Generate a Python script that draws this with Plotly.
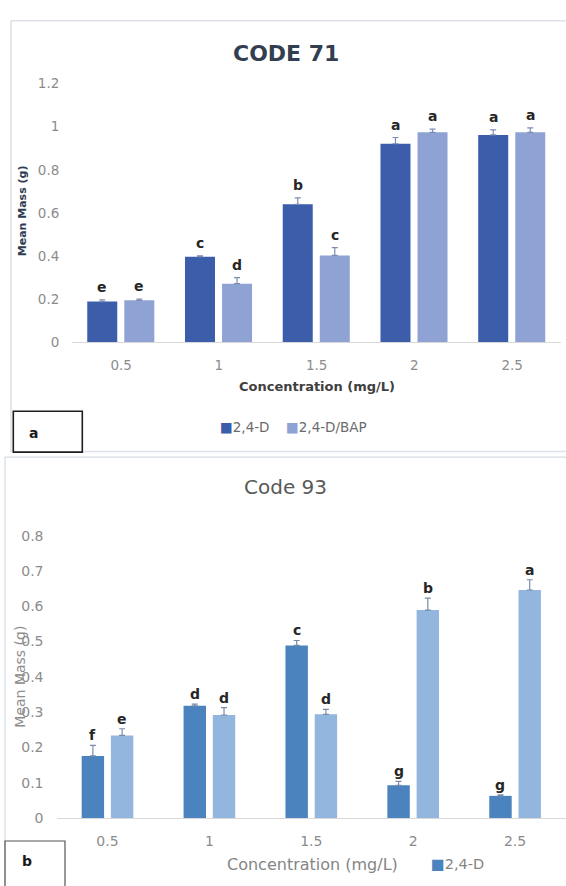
import plotly.graph_objects as go

W, H = 566, 886

# ---------------- data ----------------
categories = ["0.5", "1", "1.5", "2", "2.5"]

# Panel a : CODE 71
a_24d = [0.189, 0.397, 0.640, 0.921, 0.962]
a_24d_err = [0.008, 0.004, 0.030, 0.029, 0.023]
a_bap = [0.195, 0.272, 0.403, 0.974, 0.974]
a_bap_err = [0.006, 0.028, 0.036, 0.015, 0.021]
a_24d_letters = ["e", "c", "b", "a", "a"]
a_bap_letters = ["e", "d", "c", "a", "a"]

# Panel b : Code 93
b_24d = [0.176, 0.318, 0.489, 0.093, 0.063]
b_24d_err = [0.030, 0.005, 0.014, 0.011, 0.003]
b_bap = [0.234, 0.292, 0.294, 0.589, 0.646]
b_bap_err = [0.019, 0.021, 0.014, 0.034, 0.029]
b_24d_letters = ["f", "d", "c", "g", "g"]
b_bap_letters = ["e", "d", "d", "b", "a"]

series_names = ["2,4-D", "2,4-D/BAP"]

# ---------------- style ----------------
FONT = "DejaVu Sans"
A_DARK, A_LIGHT = "#3c5daa", "#8fa2d4"
B_DARK, B_LIGHT = "#4a83bd", "#93b6df"

def px(x):
    return x / W

def py(y):
    return 1 - y / H

# plot areas (pixels)
A_X0, A_X1, A_Y0, A_Y1 = 72.3, 561.0, 340.5, 77.0
B_X0, B_X1, B_Y0, B_Y1 = 56.5, 566.0, 825.0, 537.3

A_W, A_OFF = 0.307, (-0.347, 0.032)
B_W, B_OFF = 0.220, (-0.253, 0.034)

fig = go.Figure()

def add_bars(vals, errs, color, errcolor, off, width, xa, ya, name):
    fig.add_trace(go.Bar(
        x=categories, y=vals, name=name, showlegend=False,
        marker=dict(color=color, line=dict(width=0)),
        offset=off, width=width,
        error_y=dict(type="data", array=errs, arrayminus=[0] * len(errs),
                     symmetric=False, color=errcolor, thickness=1.2, width=3),
        xaxis=xa, yaxis=ya,
    ))

add_bars(a_24d, a_24d_err, A_DARK, "#7d8bb2", A_OFF[0], A_W, "x", "y", series_names[0])
add_bars(a_bap, a_bap_err, A_LIGHT, "#7d8bb2", A_OFF[1], A_W, "x", "y", series_names[1])
add_bars(b_24d, b_24d_err, B_DARK, "#788ca8", B_OFF[0], B_W, "x2", "y2", series_names[0])
add_bars(b_bap, b_bap_err, B_LIGHT, "#788ca8", B_OFF[1], B_W, "x2", "y2", series_names[1])

ann = []

def letters(vals, errs, labs, off, width, xref, yref, shift):
    # on a category axis a numeric x is the category index
    for i, (v, e, t) in enumerate(zip(vals, errs, labs)):
        ann.append(dict(x=i + off + width / 2, y=v + e, xref=xref, yref=yref, text=t,
                        showarrow=False, yshift=shift, xanchor="center", yanchor="bottom",
                        font=dict(family=FONT, size=14, color="#262626", weight="bold")))

letters(a_24d, a_24d_err, a_24d_letters, A_OFF[0], A_W, "x", "y", 3)
letters(a_bap, a_bap_err, a_bap_letters, A_OFF[1], A_W, "x", "y", 3)
letters(b_24d, b_24d_err, b_24d_letters, B_OFF[0], B_W, "x2", "y2", 0)
letters(b_bap, b_bap_err, b_bap_letters, B_OFF[1], B_W, "x2", "y2", 0)

def txt(x, y, text, size, color, bold=False, angle=0, xanchor="center"):
    ann.append(dict(x=px(x), y=py(y), xref="paper", yref="paper", text=text,
                    showarrow=False, xanchor=xanchor, yanchor="middle", textangle=angle,
                    font=dict(family=FONT, size=size, color=color,
                              weight="bold" if bold else "normal")))

# panel a texts
txt(286, 46, "CODE 71", 22, "#333f50", bold=True)
txt(317, 385, "Concentration (mg/L)", 13, "#404040", bold=True)
txt(22, 207, "Mean Mass (g)", 11, "#2f3b52", bold=True, angle=-90)
txt(218, 426.5, f"<span style='color:{A_DARK}'>■</span>{series_names[0]}", 13.5, "#6b6b6b", xanchor="left")
txt(284, 426.5, f"<span style='color:{A_LIGHT}'>■</span>{series_names[1]}", 13.5, "#6b6b6b", xanchor="left")
txt(33, 433, "a", 14, "#1a1a1a", bold=True)

# panel b texts
txt(285, 488, "Code 93", 20, "#595959")
txt(312, 872, "Concentration (mg/L)", 16, "#858585")
txt(20, 681, "Mean Mass (g)", 14, "#8c8c8c", angle=-90)
txt(429, 871.5, f"<span style='color:{B_DARK}'>■</span>{series_names[0]}", 14.5, "#858585", xanchor="left")
txt(27, 869, "b", 14, "#1a1a1a", bold=True)

shapes = [
    # panel a frame
    dict(type="rect", xref="paper", yref="paper", x0=px(11), x1=1.02, y0=py(451.7), y1=py(13),
         line=dict(color="#dde2ea", width=1.5), layer="below"),
    # panel b frame
    dict(type="rect", xref="paper", yref="paper", x0=px(5), x1=1.02, y0=-0.02, y1=py(457.3),
         line=dict(color="#d6dbe2", width=1.2), layer="below"),
    # label boxes
    dict(type="rect", xref="paper", yref="paper", x0=px(13.3), x1=px(82.3), y0=py(452.3), y1=py(410.7),
         line=dict(color="#1e1e1e", width=1.6), fillcolor="white", layer="above"),
    dict(type="rect", xref="paper", yref="paper", x0=px(5), x1=px(65), y0=-0.02, y1=py(848.3),
         line=dict(color="#555555", width=1.2), fillcolor="rgba(0,0,0,0)", layer="above"),
]

tickfont = dict(family=FONT, size=13.5, color="#8c8c8c")

fig.update_layout(
    width=W, height=H, margin=dict(l=0, r=0, t=0, b=0),
    paper_bgcolor="white", plot_bgcolor="rgba(0,0,0,0)",
    showlegend=False,
    xaxis=dict(domain=[px(A_X0), px(A_X1)], anchor="y", type="category",
               categoryorder="array", categoryarray=categories,
               showgrid=False, showline=True, linecolor="#d9d9d9", linewidth=1,
               ticks="", ticklabelstandoff=10, tickfont=tickfont, zeroline=False),
    yaxis=dict(domain=[py(A_Y0), py(A_Y1)], anchor="x", range=[0, 1.2], dtick=0.2,
               showgrid=False, showline=False, zeroline=False, ticks="",
               ticklabelstandoff=12, tickfont=tickfont),
    xaxis2=dict(domain=[px(B_X0), min(1.0, px(B_X1))], anchor="y2", type="category",
                categoryorder="array", categoryarray=categories,
                showgrid=False, showline=True, linecolor="#d9d9d9", linewidth=1,
                ticks="", ticklabelstandoff=10, tickfont=dict(family=FONT, size=14, color="#8c8c8c"),
                zeroline=False),
    yaxis2=dict(domain=[py(B_Y0), py(B_Y1)], anchor="x2", range=[0, 0.8], dtick=0.1,
                showgrid=False, showline=False, zeroline=False, ticks="",
                ticklabelstandoff=12, tickfont=dict(family=FONT, size=14, color="#8c8c8c")),
    annotations=ann,
    shapes=shapes,
)

fig.write_html("out.html")
